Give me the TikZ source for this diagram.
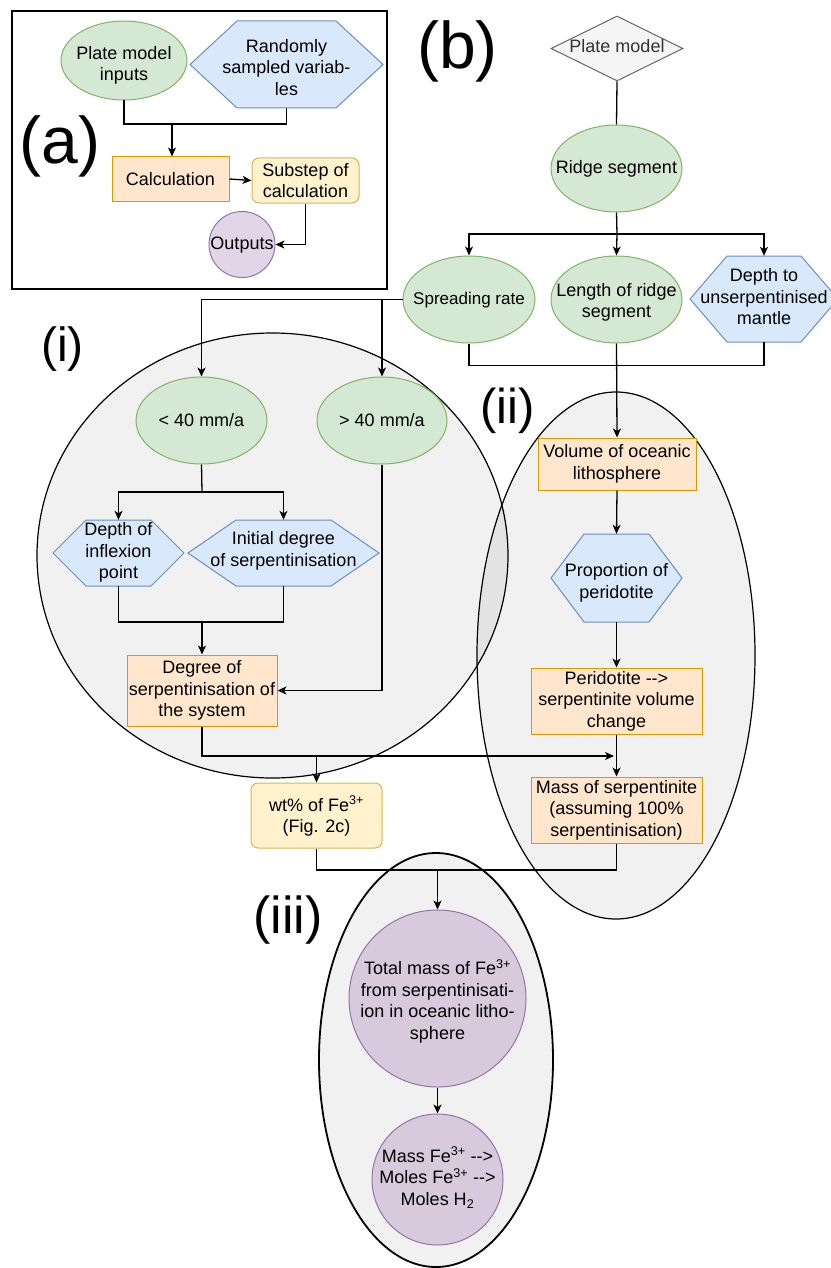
\documentclass[tikz,border=0pt]{standalone}
\usepackage{fontspec}
\setmainfont{Liberation Sans}
\usetikzlibrary{shapes.geometric,arrows.meta}
\definecolor{gfill}{HTML}{D5E8D4}\definecolor{gdraw}{HTML}{82B366}
\definecolor{bfill}{HTML}{DAE8FC}\definecolor{bdraw}{HTML}{6C8EBF}
\definecolor{ofill}{HTML}{FFE6CC}\definecolor{odraw}{HTML}{D79B00}
\definecolor{yfill}{HTML}{FFF2CC}\definecolor{ydraw}{HTML}{D6B656}
\definecolor{pfill}{HTML}{E1D5E7}\definecolor{pdraw}{HTML}{9673A6}
\definecolor{pfilldk}{HTML}{D7CADC}
\definecolor{dfill}{HTML}{F5F5F5}\definecolor{ddraw}{HTML}{666666}
\definecolor{dtext}{HTML}{333333}
\newcommand{\ztext}[2][0pt]{\makebox[0pt]{\raisebox{0pt}[\dimexpr\height+#1*2\relax][\depth]{\begin{tabular}{@{}c@{}}#2\end{tabular}}}}
\newcommand{\hexnode}[8]{%
  \draw[hexsty] ({#2-#4},#3) -- ({#2-#4+#5},{#3-#6}) -- ({#2+#4-#5},{#3-#6}) -- ({#2+#4},#3) -- ({#2+#4-#5},{#3+#6}) -- ({#2-#4+#5},{#3+#6}) -- cycle;
  \node[txt, minimum width={2*#4}, minimum height={2*#6}] (#1) at (#2,#3) {\ztext[#8]{#7}};}
\newcommand{\dd}{\mbox{-}\mbox{-}>}
\newcommand{\fe}{Fe\textsuperscript{3+}}
\begin{document}
\begin{tikzpicture}[x=1pt,y=-1pt,
  conn/.style={line width=1.3pt, draw=black},
  arr/.style={conn, -{Stealth[length=9pt,width=8pt,inset=2.5pt]}},
  txt/.style={font=\fontsize{18}{21.6}\selectfont, align=center, inner sep=0pt},
  gell/.style={txt, ellipse, draw=gdraw, fill=gfill, line width=1pt},
  orect/.style={txt, rectangle, draw=odraw, fill=ofill, line width=1pt},
  yrect/.style={txt, rectangle, rounded corners=7pt, draw=ydraw, fill=yfill, line width=1pt},
  pcirc/.style={txt, circle, draw=pdraw, fill=pfill, line width=1pt},
  hexsty/.style={draw=bdraw, fill=bfill, line width=1pt},
  group/.style={draw=black, line width=1.2pt, fill=black, fill opacity=0.055},
  bigl/.style={inner sep=0pt}]
\useasboundingbox (0,0) rectangle (830,1268);
\fill[white] (0,0) rectangle (830,1268);

% group ellipses
\draw[group] (272.5,555.5) ellipse [x radius=235.5pt, y radius=222.5pt];
\draw[group] (616,655.5) ellipse [x radius=139pt, y radius=263.5pt];
\draw[group, line width=1.8pt] (436,1060) ellipse [x radius=117pt, y radius=207pt];

% ---------- (a) legend ----------
\draw[line width=1.5pt] (12,11) rectangle (387,289);
\node[bigl, font=\fontsize{66}{70}\selectfont] (la) at (60,146) {(a)};
\node[gell, minimum width=126, minimum height=79] (pmi) at (124,60.5) {\ztext[5pt]{Plate model\\inputs}};
\hexnode{rsv}{286.5}{64.5}{96.5}{47}{43.5}{Randomly\\sampled variab-\\les}{5pt}
\node[orect, minimum width=117, minimum height=44] (calc) at (170.5,179) {Calculation};
\node[yrect, minimum width=107, minimum height=45] (sub) at (305.5,180.5) {Substep of\\calculation};
\node[pcirc, minimum size=66] (out) at (242,244.5) {\ztext[1pt]{Outputs}};
\coordinate (ja) at (172,124);
\draw[conn] (pmi.south) |- (ja) -| (rsv.south);
\draw[arr] (ja) -- (ja |- calc.north);
\draw[arr] (calc.east) -- (sub.west);
\draw[arr] (sub.south) |- (out.east);

% ---------- (b) ----------
\node[bigl, font=\fontsize{66}{70}\selectfont] (lb) at (457.5,51) {(b)};
\node[txt, diamond, draw=ddraw, fill=dfill, text=dtext, line width=1pt, minimum width=132, minimum height=65] (pm) at (617,48.5) {\ztext{Plate model}};
\node[gell, minimum width=131, minimum height=87] (rs) at (616.5,168.5) {\ztext[1pt]{Ridge segment}};
\node[gell, minimum width=132, minimum height=87] (spr) at (469,299.5) {\ztext[1pt]{\fontsize{17}{21}\selectfont Spreading rate}};
\node[gell, minimum width=131, minimum height=87] (len) at (616.5,299.5) {\ztext[3pt]{Length of ridge\\segment}};
\hexnode{dtm}{764}{299}{74}{37}{43}{Depth to\\unserpentinised\\mantle}{0pt}
\draw[conn] (pm.south) -- (rs.north);
\coordinate (jb) at (617,234);
\draw[conn] (rs.south) -- (jb);
\draw[arr] (jb) -| (spr.north);
\draw[arr] (jb) -- (len.north);
\draw[arr] (jb) -| (dtm.north);
\draw[conn] (spr.south) -- ++(0,22) -| (dtm.south);

% ---------- (i) ----------
\node[bigl, font=\fontsize{48}{52}\selectfont] (li) at (62.5,349) {(i)};
\node[gell, minimum width=131, minimum height=87] (lt) at (201.5,420.5) {\ztext[2pt]{< 40 mm/a}};
\node[gell, minimum width=130, minimum height=87] (gt) at (382,420.5) {\ztext[2pt]{> 40 mm/a}};
\draw[arr] (spr.west) -| (lt.north);
\draw[arr] (gt.north |- spr.west) -- (gt.north);
\hexnode{dip}{118.5}{553}{65.5}{33}{33}{Depth of\\inflexion\\point}{0pt}
\hexnode{ids}{283.5}{553}{95.5}{48}{33}{Initial degree\\of serpentinisation}{-2pt}
\coordinate (je) at (202,492);
\draw[conn] (lt.south) -- (je);
\draw[arr] (je) -| (dip.north);
\draw[arr] (je) -| (ids.north);
\node[orect, minimum width=150, minimum height=71] (dss) at (202,690.5) {Degree of\\serpentinisation of\\the system};
\coordinate (jf) at (202,622);
\draw[conn] (dip.south) |- (jf) -| (ids.south);
\draw[arr] (jf) -- (dss.north);
\draw[arr] (gt.south) |- (dss.east);

% ---------- (ii) ----------
\node[bigl, font=\fontsize{49}{52}\selectfont] (lii) at (507.5,411) {(ii)};
\node[orect, minimum width=158, minimum height=52] (vol) at (617,464) {Volume of oceanic\\lithosphere};
\hexnode{pop}{616.5}{578}{65.5}{33}{44}{Proportion of\\peridotite}{5pt}
\node[orect, minimum width=171, minimum height=66] (per) at (616.5,701) {Peridotite \dd\\serpentinite volume\\change};
\node[orect, minimum width=171, minimum height=66] (ms) at (616.5,810) {Mass of serpentinite\\(assuming 100\%\\serpentinisation)};
\draw[arr] (len.south) -- (vol.north);
\draw[arr] (vol.south) -- (pop.north);
\draw[arr] (pop.south) -- (per.north);
\draw[arr] (per.south) -- (ms.north);

% ---------- wt% and merge ----------
\node[yrect, minimum width=131, minimum height=65] (wt) at (316.5,815.5) {\ztext[2pt]{wt\% of \fe\\(Fig. 2c)}};
\coordinate (mrg) at (617,756);
\draw[arr, shorten >=3pt] (dss.south) |- (mrg);
\draw[arr] (wt.north |- mrg) -- (wt.north);

% ---------- (iii) ----------
\node[bigl, font=\fontsize{52}{56}\selectfont] (liii) at (288,920) {(iii)};
\node[pcirc, fill=pfilldk, minimum size=177] (tm) at (437.5,998.5) {\ztext[4pt]{Total mass of \fe\\from serpentinisati-\\ion in oceanic litho-\\sphere}};
\node[pcirc, fill=pfilldk, minimum size=131] (mf) at (437.5,1179.5) {\ztext{Mass \fe\ \dd\\Moles \fe\ \dd\\Moles H\textsubscript{2}}};
\coordinate (jj) at (437.5,870);
\draw[conn] (ms.south) |- (wt.south |- jj) -- (wt.south);
\draw[arr] (jj) -- (tm.north);
\draw[arr] (tm.south) -- (mf.north);
\end{tikzpicture}
\end{document}
